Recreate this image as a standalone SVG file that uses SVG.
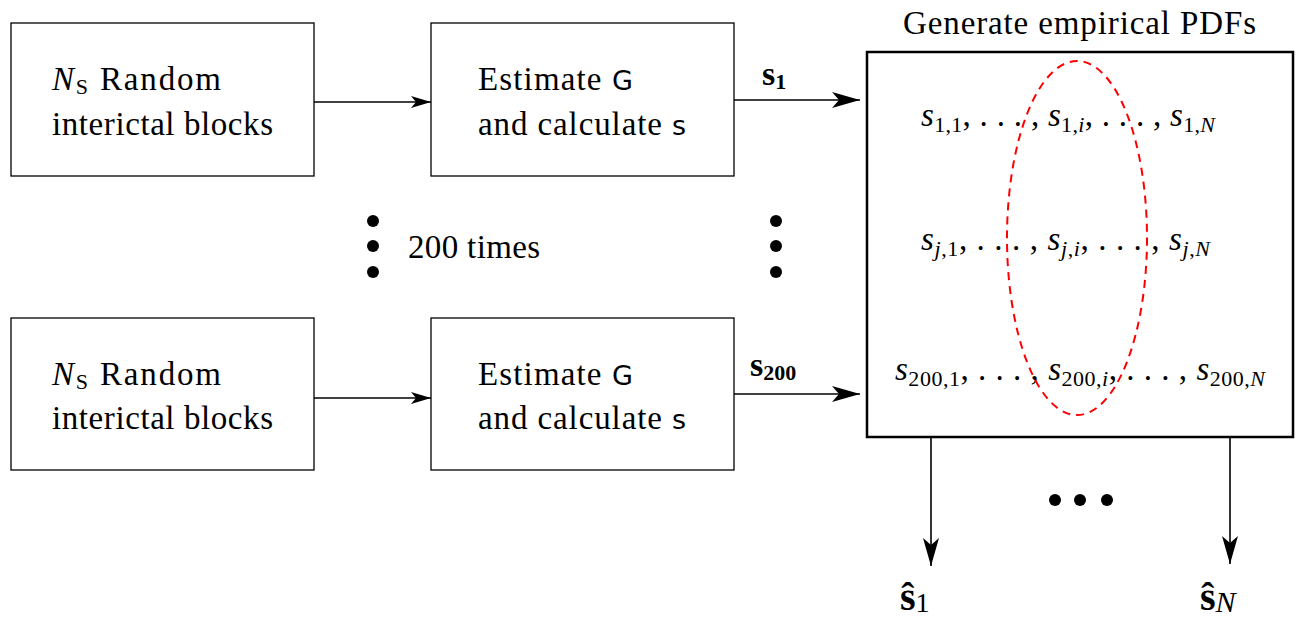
<svg xmlns="http://www.w3.org/2000/svg" width="1296" height="617" viewBox="0 0 1296 617">
<style>
.box{fill:#fff;stroke:#000;stroke-width:1.3}
.big{fill:none;stroke:#000;stroke-width:2.5}
.t{font-family:"Liberation Serif",serif;font-size:33px;fill:#000}
.m{font-family:"Liberation Serif",serif;font-size:33px;font-style:italic;fill:#000}
.sub{font-size:22px;font-style:normal}
.subi{font-size:22px;font-style:italic}
.sf{font-family:"DejaVu Sans",sans-serif;font-size:27px}
.bold{font-weight:bold}
.line{stroke:#000;stroke-width:1.6;fill:none}
.dot{fill:#000}
</style>
<defs>
<marker id="ah" viewBox="0 0 20 12" refX="20" refY="6" markerWidth="20" markerHeight="12" markerUnits="userSpaceOnUse" orient="auto">
<path d="M0,0 L20,6 L0,12 L5,6 Z" fill="#000"/>
</marker>
<marker id="ahb" viewBox="0 0 28 16" refX="28" refY="8" markerWidth="28" markerHeight="16" markerUnits="userSpaceOnUse" orient="auto">
<path d="M0,0 L28,8 L0,16 L7,8 Z" fill="#000"/>
</marker>
</defs>

<g id="connectors">
<line class="line" x1="314" y1="102" x2="431" y2="102" marker-end="url(#ah)"/>
<line class="line" x1="314" y1="398" x2="431" y2="398" marker-end="url(#ah)"/>
<line class="line" x1="734" y1="100" x2="860" y2="100" stroke-width="2" marker-end="url(#ahb)"/>
<line class="line" x1="734" y1="394" x2="860" y2="394" stroke-width="2" marker-end="url(#ahb)"/>
<line class="line" x1="931" y1="438" x2="931" y2="566" stroke-width="2" marker-end="url(#ahb)"/>
<line class="line" x1="1230" y1="438" x2="1230" y2="564" stroke-width="2" marker-end="url(#ahb)"/>
<text class="t bold" x="762" y="85" style="font-size:34px">s<tspan class="sub" dy="4">1</tspan></text>
<text class="t bold" x="750" y="376" style="font-size:34px">s<tspan class="sub" dy="4">200</tspan></text>
</g>

<g id="node-random-top">
<rect class="box" x="11" y="23" width="303" height="153"/>
<text class="t" x="52" y="90" textLength="169"><tspan font-style="italic">N</tspan><tspan class="sub" dy="4">S</tspan><tspan dy="-4"> Random</tspan></text>
<text class="t" x="52" y="135" textLength="221">interictal blocks</text>
</g>

<g id="node-estimate-top">
<rect class="box" x="431" y="23" width="303" height="153"/>
<text class="t" x="478" y="90" textLength="155">Estimate <tspan class="sf">G</tspan></text>
<text class="t" x="478" y="135" textLength="208">and calculate <tspan class="sf">s</tspan></text>
</g>

<g id="node-random-bottom">
<rect class="box" x="11" y="318" width="303" height="152"/>
<text class="t" x="52" y="385" textLength="169"><tspan font-style="italic">N</tspan><tspan class="sub" dy="4">S</tspan><tspan dy="-4"> Random</tspan></text>
<text class="t" x="52" y="429" textLength="221">interictal blocks</text>
</g>

<g id="node-estimate-bottom">
<rect class="box" x="431" y="318" width="303" height="152"/>
<text class="t" x="478" y="385" textLength="155">Estimate <tspan class="sf">G</tspan></text>
<text class="t" x="478" y="429" textLength="208">and calculate <tspan class="sf">s</tspan></text>
</g>

<g id="repeat-dots">
<circle class="dot" cx="373" cy="221" r="6"/>
<circle class="dot" cx="373" cy="246" r="6"/>
<circle class="dot" cx="373" cy="272" r="6"/>
<text class="t" x="408" y="258" textLength="132">200 times</text>
<circle class="dot" cx="776" cy="221" r="6"/>
<circle class="dot" cx="776" cy="246" r="6"/>
<circle class="dot" cx="776" cy="272" r="6"/>
</g>

<g id="node-pdfs">
<text class="t" x="903" y="34" textLength="353">Generate empirical PDFs</text>
<rect class="big" x="867" y="52" width="426" height="385"/>
<text class="m" x="921" y="126" textLength="294">s<tspan class="sub" dy="6">1,1</tspan><tspan font-style="normal" dy="-6">, . . . , </tspan>s<tspan class="sub" dy="6">1,</tspan><tspan class="subi">i</tspan><tspan font-style="normal" dy="-6">, . . . , </tspan>s<tspan class="sub" dy="6">1,</tspan><tspan class="subi">N</tspan></text>
<text class="m" x="921" y="250" textLength="289">s<tspan class="subi" dy="6">j</tspan><tspan class="sub">,1</tspan><tspan font-style="normal" dy="-6">, . . . , </tspan>s<tspan class="subi" dy="6">j</tspan><tspan class="sub">,</tspan><tspan class="subi">i</tspan><tspan font-style="normal" dy="-6">, . . . , </tspan>s<tspan class="subi" dy="6">j</tspan><tspan class="sub">,</tspan><tspan class="subi">N</tspan></text>
<text class="m" x="895" y="380" textLength="370">s<tspan class="sub" dy="6">200,1</tspan><tspan font-style="normal" dy="-6">, . . . , </tspan>s<tspan class="sub" dy="6">200,</tspan><tspan class="subi">i</tspan><tspan font-style="normal" dy="-6">, . . . , </tspan>s<tspan class="sub" dy="6">200,</tspan><tspan class="subi">N</tspan></text>
<ellipse cx="1077" cy="238" rx="70" ry="177" fill="none" stroke="#f00" stroke-width="2" stroke-dasharray="8,6"/>
</g>

<g id="output-dots">
<circle class="dot" cx="1055" cy="500" r="6"/>
<circle class="dot" cx="1080" cy="500" r="6"/>
<circle class="dot" cx="1107" cy="500" r="6"/>
</g>

<g id="node-s1hat">
<text class="t bold" x="900" y="610" style="font-size:40px">ŝ<tspan dy="2" style="font-size:28px;font-weight:normal">1</tspan></text>
</g>
<g id="node-sNhat">
<text class="t bold" x="1200" y="610" style="font-size:40px">ŝ<tspan dy="2" style="font-size:30px;font-weight:normal;font-style:italic">N</tspan></text>
</g>
</svg>
